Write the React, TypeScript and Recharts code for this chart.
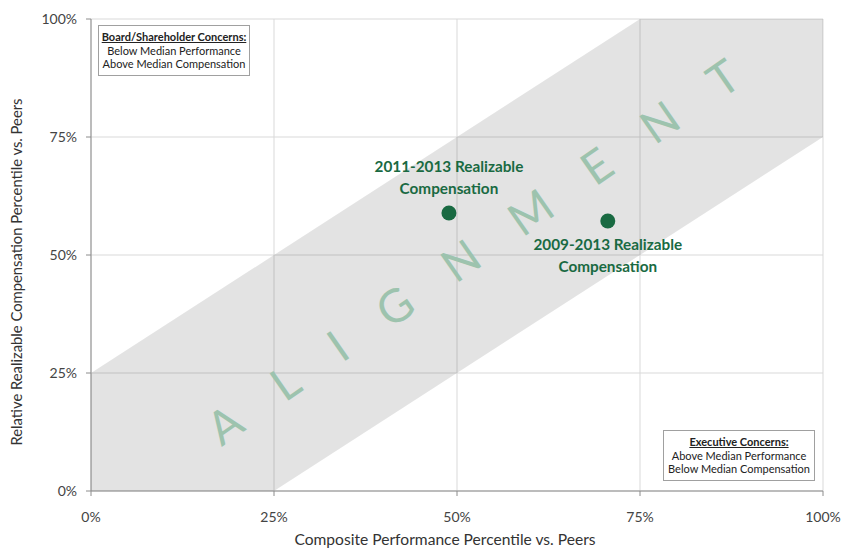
import React from 'react';
import {
  ComposedChart,
  Area,
  Scatter,
  XAxis,
  YAxis,
  CartesianGrid,
  ReferenceDot,
  Label,
  LabelList,
} from 'recharts';

// Percentile ticks shared by both axes
const percentTicks = [0, 25, 50, 75, 100];

// Alignment band corners (performance percentile -> compensation range)
const bandPerformance = [0, 25, 75, 100];
const bandLow = [0, 0, 50, 75];
const bandHigh = [25, 50, 100, 100];

// Realizable compensation points
const periods = ['2011-2013', '2009-2013'];
const performancePct = [48.9, 70.6];
const compensationPct = [58.9, 57.2];

const bandData = bandPerformance.map((x, i) => ({ x, band: [bandLow[i], bandHigh[i]] }));
const pointData = periods.map((p, i) => ({ x: performancePct[i], y: compensationPct[i], period: p }));

const FONT = 'Lato, "Open Sans", sans-serif';
const GREEN = '#196a42';
const AXIS_GREY = '#8c8c8c';

const pct = (v: number) => `${v}%`;

const PointLabel = (props: any) => {
  const { x, y, width, height, index } = props;
  const cx = x + width / 2;
  const cy = y + height / 2;
  const period = periods[index];
  // first point labelled above, second below
  const above = index === 0;
  const y1 = above ? cy - 45 : cy + 25;
  return (
    <text
      x={cx}
      y={y1}
      textAnchor="middle"
      dominantBaseline="middle"
      fill={GREEN}
      fontFamily={FONT}
      fontWeight={700}
      fontSize={15.3}
    >
      <tspan x={cx}>{`${period} Realizable`}</tspan>
      <tspan x={cx} dy={22}>
        Compensation
      </tspan>
    </text>
  );
};

const AlignmentText = (props: any) => {
  const { cx, cy } = props;
  if (cx == null || cy == null) return null;
  return (
    <text
      x={cx}
      y={cy}
      dx={23}
      textAnchor="middle"
      dominantBaseline="middle"
      fill="#9dc3ae"
      fontFamily={FONT}
      fontWeight={400}
      fontSize={46}
      letterSpacing={46}
      transform={`rotate(-34.8 ${cx} ${cy})`}
    >
      ALIGNMENT
    </text>
  );
};

const boxStyle: React.CSSProperties = {
  position: 'absolute',
  width: 152,
  height: 51,
  border: '1px solid #a0a0a0',
  background: '#fff',
  fontFamily: FONT,
  fontSize: 11,
  lineHeight: '13.5px',
  color: '#222',
  textAlign: 'center',
  paddingTop: 4,
  boxSizing: 'border-box',
};

export default function App() {
  return (
    <div style={{ position: 'absolute', left: 0, top: 0, width: 843, height: 549, background: '#fff' }}>
      <ComposedChart
        width={843}
        height={549}
        data={bandData}
        margin={{ top: 19, right: 20, bottom: 0, left: 0 }}
      >
        <CartesianGrid stroke="#d9d9d9" />
        <XAxis
          type="number"
          dataKey="x"
          domain={[0, 100]}
          ticks={percentTicks}
          tickFormatter={pct}
          height={58}
          stroke={AXIS_GREY}
          tickSize={5}
          tickMargin={16}
          tick={{ fill: '#444', fontSize: 14, fontFamily: FONT }}
        >
          <Label
            content={(p: any) => {
              const vb = p.viewBox || { x: 91, y: 491, width: 732, height: 58 };
              return (
                <text
                  x={445}
                  y={vb.y + 50}
                  textAnchor="middle"
                  dominantBaseline="middle"
                  fill="#333"
                  fontFamily={FONT}
                  fontSize={15.6}
                >
                  Composite Performance Percentile vs. Peers
                </text>
              );
            }}
          />
        </XAxis>
        <YAxis
          type="number"
          domain={[0, 100]}
          ticks={percentTicks}
          tickFormatter={pct}
          width={91}
          stroke={AXIS_GREY}
          tickSize={5}
          tickMargin={9}
          tick={{ fill: '#444', fontSize: 14, fontFamily: FONT }}
        >
          <Label
            content={(p: any) => {
              const vb = p.viewBox || { x: 0, y: 19, width: 91, height: 472 };
              const cx = 18;
              const cy = vb.y + vb.height / 2 + 17;
              return (
                <text
                  x={cx}
                  y={cy}
                  textAnchor="middle"
                  dominantBaseline="middle"
                  fill="#333"
                  fontFamily={FONT}
                  fontSize={14.8}
                  transform={`rotate(-90 ${cx} ${cy})`}
                >
                  Relative Realizable Compensation Percentile vs. Peers
                </text>
              );
            }}
          />
        </YAxis>
        <Area
          type="linear"
          dataKey="band"
          stroke="none"
          fill="#000"
          fillOpacity={0.11}
          isAnimationActive={false}
          activeDot={false}
        />
        <ReferenceDot x={52.6} y={49.8} r={0} shape={AlignmentText} ifOverflow="visible" />
        <Scatter data={pointData} dataKey="y" fill={GREEN} isAnimationActive={false}
          shape={(p: any) => <circle cx={p.cx} cy={p.cy} r={7.5} fill={GREEN} />}
        >
          <LabelList content={PointLabel} />
        </Scatter>
      </ComposedChart>

      <div style={{ ...boxStyle, left: 98, top: 25 }}>
        <div style={{ fontWeight: 700, textDecoration: 'underline' }}>Board/Shareholder Concerns:</div>
        <div>Below Median Performance</div>
        <div>Above Median Compensation</div>
      </div>
      <div style={{ ...boxStyle, left: 663, top: 430 }}>
        <div style={{ fontWeight: 700, textDecoration: 'underline' }}>Executive Concerns:</div>
        <div>Above Median Performance</div>
        <div>Below Median Compensation</div>
      </div>
    </div>
  );
}
